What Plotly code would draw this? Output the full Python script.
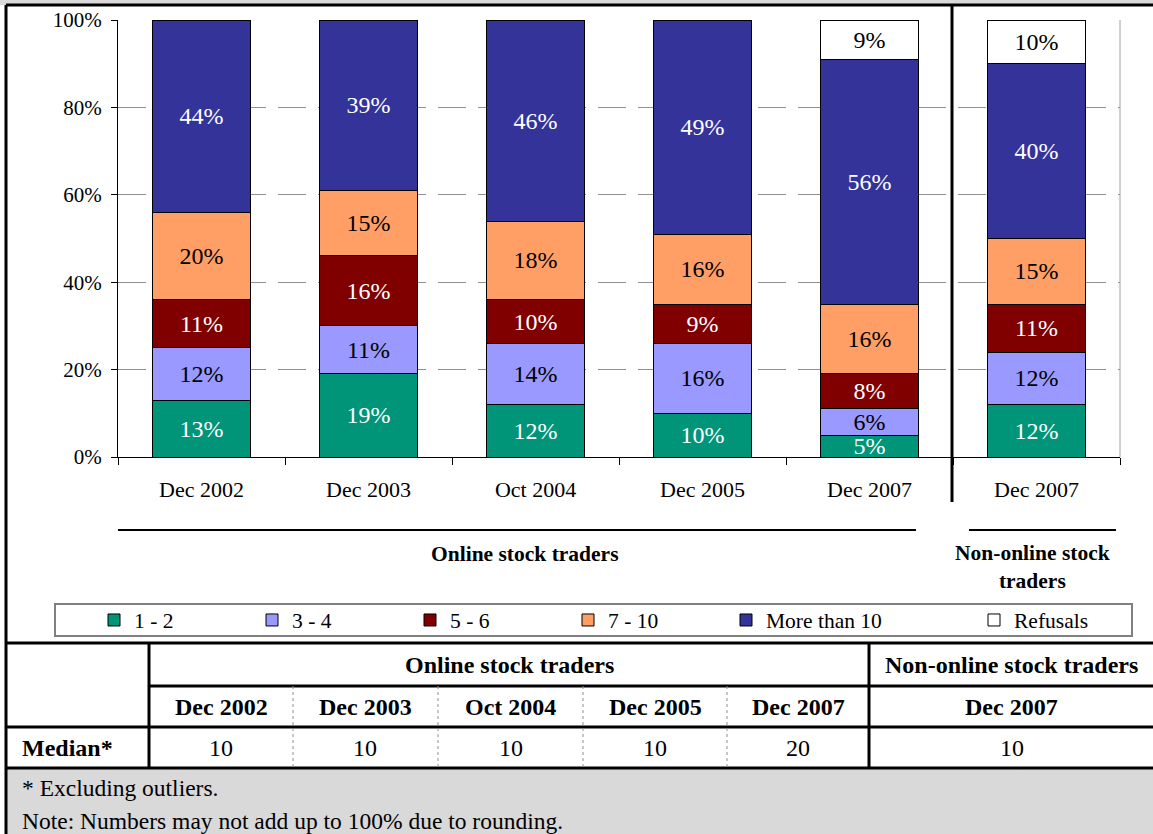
import plotly.graph_objects as go

# ---------------- data ----------------
categories = ["Dec 2002", "Dec 2003", "Oct 2004", "Dec 2005", "Dec 2007", "Dec 2007"]
series_names = ["1 - 2", "3 - 4", "5 - 6", "7 - 10", "More than 10", "Refusals"]
v_1_2 = [13, 19, 12, 10, 5, 12]
v_3_4 = [12, 11, 14, 16, 6, 12]
v_5_6 = [11, 16, 10, 9, 8, 11]
v_7_10 = [20, 15, 18, 16, 16, 15]
v_more10 = [44, 39, 46, 49, 56, 40]
v_refusals = [None, None, None, None, 9, 10]

y_ticks = [0, 20, 40, 60, 80, 100]
y_tick_labels = ["0%", "20%", "40%", "60%", "80%", "100%"]
group_labels = ["Online stock traders", "Non-online stock traders"]
table_dates = ["Dec 2002", "Dec 2003", "Oct 2004", "Dec 2005", "Dec 2007", "Dec 2007"]
medians = [10, 10, 10, 10, 20, 10]
row_label = "Median*"
notes = ["* Excluding outliers.", "Note: Numbers may not add up to 100% due to rounding."]

# ---------------- styling ----------------
W, H = 1153, 834
FONT = "Liberation Serif, Times New Roman, serif"
colors = ["#009479", "#9999FF", "#800000", "#FF9F66", "#333399", "#FFFFFF"]
text_colors = ["white", "black", "white", "black", "white", "black"]
series_values = [v_1_2, v_3_4, v_5_6, v_7_10, v_more10, v_refusals]


def px(x):
    return x / W


def py(y):
    return 1 - y / H


xs = list(range(len(categories)))

fig = go.Figure()
for i, (name, vals) in enumerate(zip(series_names, series_values)):
    fig.add_trace(go.Bar(
        x=xs, y=vals, name=name,
        marker=dict(color=colors[i], line=dict(color="black", width=1)),
        width=0.59,
        text=[f"{v}%" if v is not None else "" for v in vals],
        textposition="inside", insidetextanchor="middle", textangle=0,
        constraintext="none",
        textfont=dict(family=FONT, size=24, color=text_colors[i]),
        hoverinfo="skip",
        legend="legend2" if name == "Refusals" else "legend",
    ))

shapes = []
annotations = []


def note(x, y, text, size=21, xanchor="center"):
    annotations.append(dict(xref="paper", yref="paper", x=px(x), y=py(y), text=text,
                            xanchor=xanchor, yanchor="middle", showarrow=False,
                            font=dict(family=FONT, size=size, color="black")))


def hline(y, x0, x1, width=3, color="black", dash=None):
    d = dict(type="line", xref="paper", yref="paper", x0=px(x0), x1=px(x1), y0=py(y), y1=py(y),
             line=dict(color=color, width=width))
    if dash:
        d["line"]["dash"] = dash
    shapes.append(d)


def vline(x, y0, y1, width=2, color="black", dash=None):
    d = dict(type="line", xref="paper", yref="paper", x0=px(x), x1=px(x), y0=py(y0), y1=py(y1),
             line=dict(color=color, width=width))
    if dash:
        d["line"]["dash"] = dash
    shapes.append(d)


# top strip, footer background and frame
shapes.append(dict(type="rect", xref="paper", yref="paper", x0=0, x1=1, y0=py(5), y1=1,
                   fillcolor="#D9D9D9", line_width=0, layer="below"))
shapes.append(dict(type="rect", xref="paper", yref="paper", x0=px(6), x1=1, y0=0, y1=py(768),
                   fillcolor="#D9D9D9", line_width=0, layer="below"))
hline(5, 6, 1153, 3)
vline(6, 5, 834, 3)

# right plot border (gray)
shapes.append(dict(type="line", xref="x domain", yref="y domain", x0=1, x1=1, y0=0, y1=1,
                   line=dict(color="#A0A0A0", width=1)))

# thick divider between groups
vline(952, 5, 502, 3)

# group brackets under axis
hline(530, 118, 916, 2)
hline(530, 969, 1116, 2)
note(525, 554, f"<b>{group_labels[0]}</b>", 21.5)
note(1032, 567, "<b>Non-online stock<br>traders</b>", 21.5)

# legend box
shapes.append(dict(type="rect", xref="paper", yref="paper", x0=px(55), x1=px(1132), y0=py(636), y1=py(604),
                   line=dict(color="#808080", width=2), fillcolor="rgba(0,0,0,0)"))

# table lines
hline(643, 6, 1153, 3)
hline(686, 149, 1153, 3)
hline(727, 6, 1153, 3)
hline(768, 6, 1153, 3)
vline(149, 643, 768, 3)
vline(869, 643, 768, 3)
col_edges = [149, 293, 438, 583, 727, 869, 1153]
for xe in col_edges[1:5]:
    vline(xe, 686, 768, 1, "#909090", "dot")

# table text
note((149 + 869) / 2, 665, f"<b>{group_labels[0]}</b>", 24)
note(1012, 665, f"<b>{group_labels[1]}</b>", 24)
centers = [(col_edges[i] + col_edges[i + 1]) / 2 for i in range(5)] + [1012]
for c, d, m in zip(centers, table_dates, medians):
    note(c, 707, f"<b>{d}</b>", 24)
    note(c, 748, str(m), 24)
note(20, 748, f"<b>{row_label}</b>", 24, "left")
for yy, t in zip([788, 821], notes):
    note(20, yy, t, 23.5, "left")

fig.update_layout(
    width=W, height=H,
    margin=dict(l=0, r=0, t=0, b=0, pad=0, autoexpand=False),
    paper_bgcolor="white", plot_bgcolor="white",
    barmode="stack",
    font=dict(family=FONT, size=21, color="black"),
    showlegend=True,
    legend=dict(orientation="h", xref="paper", yref="paper", x=px(94), y=py(620),
                xanchor="left", yanchor="middle", entrywidth=113, entrywidthmode="pixels",
                itemwidth=30, font=dict(family=FONT, size=21.5), bgcolor="rgba(0,0,0,0)",
                borderwidth=0, traceorder="normal", itemclick=False),
    legend2=dict(orientation="h", xref="paper", yref="paper", x=px(974), y=py(620),
                 xanchor="left", yanchor="middle", itemwidth=30,
                 font=dict(family=FONT, size=21.5), bgcolor="rgba(0,0,0,0)", borderwidth=0,
                 itemclick=False),
    xaxis=dict(
        domain=[px(118), px(1120)],
        range=[-0.5, len(categories) - 0.5],
        tickvals=xs, ticktext=categories,
        ticks="outside", ticklen=13, tickcolor="rgba(0,0,0,0)",
        showline=True, linecolor="black", linewidth=1,
        showgrid=False, zeroline=False, automargin=False,
        tickfont=dict(family=FONT, size=22, color="black"),
        minor=dict(tickvals=[i - 0.5 for i in range(len(categories) + 1)], ticks="outside",
                   ticklen=7, tickcolor="black", tickwidth=1, showgrid=False),
        fixedrange=True,
    ),
    yaxis=dict(
        domain=[py(457), py(20)],
        range=[0, 100],
        tickvals=y_ticks, ticktext=y_tick_labels,
        ticks="outside", ticklen=6, tickcolor="black",
        ticklabelstandoff=5,
        showline=True, linecolor="black", linewidth=1,
        showgrid=True, gridcolor="#909090", gridwidth=1, griddash="28px,12px",
        zeroline=False, automargin=False,
        tickfont=dict(family=FONT, size=21, color="black"),
        fixedrange=True,
    ),
    shapes=shapes,
    annotations=annotations,
)

fig.write_html("out.html", post_script="document.body.style.margin='0';",
               config={"displayModeBar": False})
